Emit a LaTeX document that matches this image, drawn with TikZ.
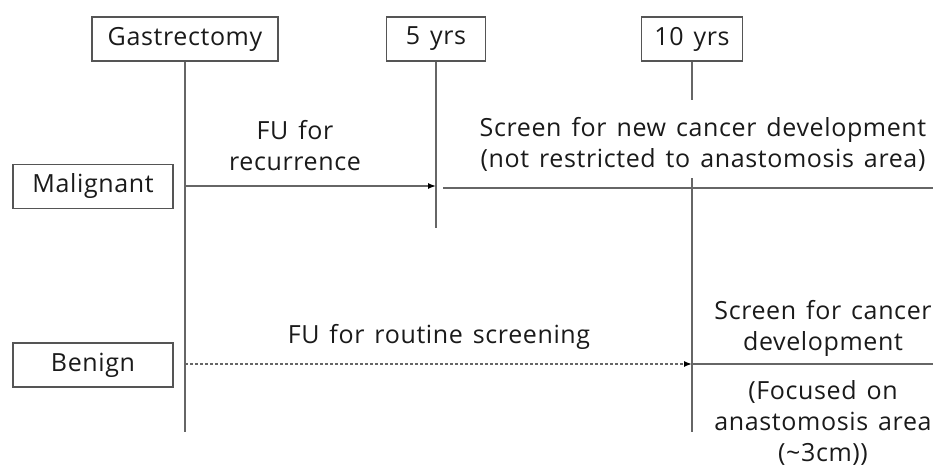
\documentclass[tikz,border=0pt]{standalone}
\usepackage{fontspec}
\setmainfont[LetterSpace=2.5,WordSpace=1.4]{Open Sans}
\usetikzlibrary{arrows.meta}
\definecolor{linegray}{HTML}{666666}
\definecolor{boxgray}{HTML}{555555}
\definecolor{txt}{HTML}{1A1A1A}
\begin{document}
\begin{tikzpicture}[x=1pt,y=-1pt,
 box/.style={draw=boxgray,line width=1.3pt,minimum height=44pt,inner sep=0pt,text=txt,font=\fontsize{25}{30}\selectfont},
 lbl/.style={text=txt,align=center,font=\fontsize{25}{31}\selectfont,inner sep=0pt},
 ln/.style={draw=linegray,line width=1.4pt},
 tip/.style={-{Latex[length=8pt,width=6pt,fill=black,color=black]}}]
\useasboundingbox (0,0) rectangle (933,465);
\node[box,minimum width=186pt] (gas) at (185,39) {Gastrectomy};
\node[box,minimum width=99pt] (five) at (436,39) {5 yrs};
\node[box,minimum width=101pt] (ten) at (692,39) {10 yrs};
\node[box,minimum width=160pt] (mal) at (93,186.5) {Malignant};
\node[box,minimum width=160pt] (ben) at (93,365) {Benign};
% timeline ends
\coordinate (gend) at (185,432);
\coordinate (fend) at (436,228);
\coordinate (tgap1) at (692,100);
\coordinate (tgap2) at (692,178);
\coordinate (tend) at (692,432);
\coordinate (m0) at (185,186);
\coordinate (m1) at (436,186);
\coordinate (m2) at (443,188);
\coordinate (m3) at (933,188);
\coordinate (b0) at (185,364);
\coordinate (b1) at (692,364);
\coordinate (b2) at (933,364);
\draw[ln] (gas.south) -- (gend);
\draw[ln] (five.south) -- (fend);
\draw[ln] (ten.south) -- (tgap1);
\draw[ln] (tgap2) -- (tend);
\draw[ln,tip] (m0) -- (m1);
\draw[ln] (m2) -- (m3);
\draw[ln,tip,dash pattern=on 3pt off 2pt] (b0) -- (b1);
\draw[ln] (b1) -- (b2);
% labels
\node[lbl] (fu1) at (295,146) {FU for\\recurrence};
\node[lbl] (scr1) at (703,144) {Screen for new cancer development\\(not restricted to anastomosis area)};
\node[lbl] (fu2) at (439,337) {FU for routine screening};
\node[lbl] (scr2) at (823,328) {Screen for cancer\\development};
\node[lbl] (foc) at (823,423) {(Focused on\\anastomosis area\\(\textasciitilde3cm))};
\end{tikzpicture}
\end{document}
